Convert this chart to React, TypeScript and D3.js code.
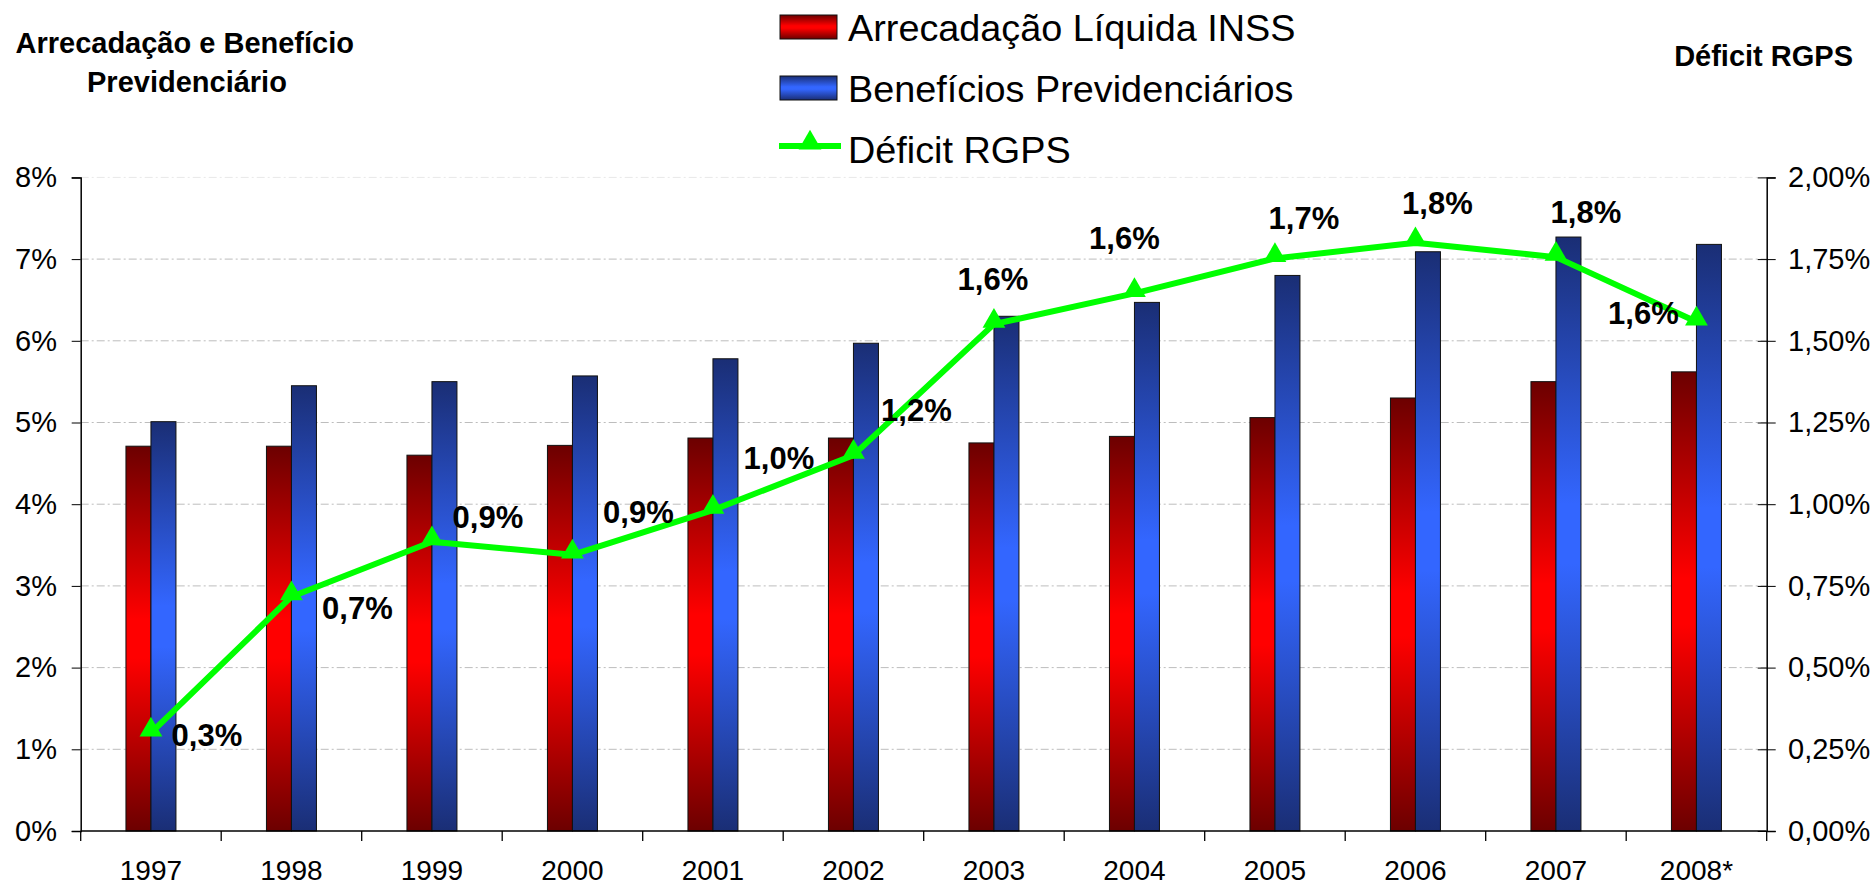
import React, { useEffect, useRef } from 'react';
import * as d3 from 'd3';

// valores (% do PIB)
const years = ['1997', '1998', '1999', '2000', '2001', '2002', '2003', '2004', '2005', '2006', '2007', '2008*'];
const arrecadacao = [4.71, 4.71, 4.6, 4.72, 4.81, 4.81, 4.75, 4.83, 5.06, 5.3, 5.5, 5.62];
const beneficios = [5.01, 5.45, 5.5, 5.57, 5.78, 5.97, 6.3, 6.47, 6.8, 7.09, 7.27, 7.18];
const deficit = [0.3, 0.717, 0.885, 0.845, 0.982, 1.15, 1.551, 1.645, 1.752, 1.8, 1.756, 1.558];
const deficitLabels = ['0,3%', '0,7%', '0,9%', '0,9%', '1,0%', '1,2%', '1,6%', '1,6%', '1,7%', '1,8%', '1,8%', '1,6%'];
const leftTicks = [0, 1, 2, 3, 4, 5, 6, 7, 8];
const rightTicks = [0, 0.25, 0.5, 0.75, 1, 1.25, 1.5, 1.75, 2];
const legendItems = ['Arrecadação Líquida INSS', 'Benefícios Previdenciários', 'Déficit RGPS'];

// onde cada rótulo fica em relação ao marcador
const labelOffsets = [
  [56, 2], [66, 11], [56, -25], [66, -43], [66, -52], [63, -45],
  [-1, -45], [-10, -56], [29, -41], [22, -40], [30, -45], [-53, -9],
];

const FONT = 'Liberation Sans, Arial, Helvetica, sans-serif';

const App = () => {
  const svgRef = useRef(null);

  useEffect(() => {
    const width = 1874;
    const height = 886;
    const left = 80.7;
    const right = 1766.7;
    const top = 177.4;
    const bottom = 831;

    const svg = d3.select(svgRef.current);
    svg.selectAll('*').remove();
    svg.attr('width', width).attr('height', height);

    const defs = svg.append('defs');
    const grad = (id, dark, bright) => {
      const g = defs.append('linearGradient').attr('id', id)
        .attr('x1', 0).attr('y1', 0).attr('x2', 0).attr('y2', 1);
      [[0, dark], [0.45, bright], [0.55, bright], [1, dark]].forEach(([o, c]) => {
        g.append('stop').attr('offset', o).attr('stop-color', c);
      });
    };
    grad('gRed', '#6c0000', '#ff0000');
    grad('gBlue', '#1a2e75', '#3366ff');

    const x = d3.scaleBand().domain(years).range([left, right]);
    const y = d3.scaleLinear().domain([0, 8]).range([bottom, top]);
    const yR = d3.scaleLinear().domain([0, 2]).range([bottom, top]);
    const barW = 25;

    // grade
    svg.append('g')
      .selectAll('line')
      .data(leftTicks.filter(d => d > 0))
      .join('line')
      .attr('x1', left).attr('x2', right)
      .attr('y1', d => y(d)).attr('y2', d => y(d))
      .attr('stroke', d => (d === 8 ? '#e8e8e8' : '#bdbdbd'))
      .attr('stroke-width', 1)
      .attr('stroke-dasharray', '8,3,2,3');

    // barras
    const bars = svg.append('g');
    bars.selectAll('rect.red')
      .data(arrecadacao)
      .join('rect')
      .attr('class', 'red')
      .attr('x', (d, i) => x(years[i]) + x.bandwidth() / 2 - barW)
      .attr('y', d => y(d))
      .attr('width', barW)
      .attr('height', d => bottom - y(d))
      .attr('fill', 'url(#gRed)')
      .attr('stroke', '#111')
      .attr('stroke-width', 1);
    bars.selectAll('rect.blue')
      .data(beneficios)
      .join('rect')
      .attr('class', 'blue')
      .attr('x', (d, i) => x(years[i]) + x.bandwidth() / 2)
      .attr('y', d => y(d))
      .attr('width', barW)
      .attr('height', d => bottom - y(d))
      .attr('fill', 'url(#gBlue)')
      .attr('stroke', '#111')
      .attr('stroke-width', 1);

    // eixo esquerdo
    const axL = svg.append('g')
      .attr('transform', `translate(${left},0)`)
      .call(d3.axisLeft(y).tickValues(leftTicks).tickFormat(d => `${d}%`).tickSize(9).tickPadding(14.7));
    axL.select('.domain').attr('stroke', '#000').attr('stroke-width', 1.5);
    axL.selectAll('text').attr('font-family', FONT).attr('font-size', 29).attr('fill', '#000');

    // eixo direito
    const axR = svg.append('g')
      .attr('transform', `translate(${right},0)`)
      .call(d3.axisRight(yR).tickValues(rightTicks)
        .tickFormat(d => `${d.toFixed(2).replace('.', ',')}%`).tickSize(9).tickPadding(12.3));
    axR.select('.domain').attr('stroke', '#000').attr('stroke-width', 1.5);
    axR.selectAll('.tick line').attr('x1', -9);
    axR.selectAll('text').attr('font-family', FONT).attr('font-size', 29).attr('fill', '#000');

    // eixo das categorias
    const axB = svg.append('g').attr('transform', `translate(0,${bottom})`);
    axB.append('line').attr('x1', left).attr('x2', right).attr('stroke', '#000').attr('stroke-width', 1.5);
    axB.selectAll('line.tk')
      .data([...years.map(d => x(d)), right])
      .join('line')
      .attr('class', 'tk')
      .attr('x1', d => d).attr('x2', d => d)
      .attr('y1', 0).attr('y2', 10)
      .attr('stroke', '#000').attr('stroke-width', 1.3);
    axB.selectAll('text')
      .data(years)
      .join('text')
      .attr('x', d => x(d) + x.bandwidth() / 2)
      .attr('y', 49)
      .attr('text-anchor', 'middle')
      .attr('font-family', FONT)
      .attr('font-size', 28)
      .text(d => d);

    // linha do déficit
    const cx = i => x(years[i]) + x.bandwidth() / 2;
    const line = d3.line().x((d, i) => cx(i)).y(d => yR(d));
    svg.append('path')
      .datum(deficit)
      .attr('d', line)
      .attr('fill', 'none')
      .attr('stroke', '#00ff00')
      .attr('stroke-width', 6)
      .attr('stroke-linejoin', 'round');

    const tri = d3.symbol().type(d3.symbolTriangle).size(225);
    svg.append('g')
      .selectAll('path')
      .data(deficit)
      .join('path')
      .attr('d', tri)
      .attr('transform', (d, i) => `translate(${cx(i)},${yR(d) - 3})`)
      .attr('fill', '#00ff00');

    svg.append('g')
      .selectAll('text')
      .data(deficit)
      .join('text')
      .attr('x', (d, i) => cx(i) + labelOffsets[i][0])
      .attr('y', (d, i) => yR(d) + labelOffsets[i][1])
      .attr('dy', '0.36em')
      .attr('text-anchor', 'middle')
      .attr('font-family', FONT)
      .attr('font-weight', 'bold')
      .attr('font-size', 31)
      .text((d, i) => deficitLabels[i]);

    // títulos dos eixos
    const titles = svg.append('g')
      .attr('font-family', FONT)
      .attr('font-weight', 'bold')
      .attr('font-size', 29);
    titles.append('text').attr('x', 15.5).attr('y', 53).text('Arrecadação e Benefício');
    titles.append('text').attr('x', 87).attr('y', 92).text('Previdenciário');
    titles.append('text').attr('x', 1853).attr('y', 66).attr('text-anchor', 'end').text('Déficit RGPS');

    // legenda
    const rowY = [27, 88, 149];
    const lg = svg.append('g');
    lg.append('rect').attr('x', 780).attr('y', rowY[0] - 12).attr('width', 57).attr('height', 24)
      .attr('fill', 'url(#gRed)').attr('stroke', '#111');
    lg.append('rect').attr('x', 780).attr('y', rowY[1] - 12).attr('width', 57).attr('height', 24)
      .attr('fill', 'url(#gBlue)').attr('stroke', '#111');
    lg.append('line').attr('x1', 779).attr('x2', 841).attr('y1', rowY[2] - 3).attr('y2', rowY[2] - 3)
      .attr('stroke', '#00ff00').attr('stroke-width', 6);
    lg.append('path').attr('d', tri).attr('transform', `translate(810,${rowY[2] - 6})`).attr('fill', '#00ff00');
    lg.selectAll('text')
      .data(legendItems)
      .join('text')
      .attr('x', 848)
      .attr('y', (d, i) => rowY[i] + 13.8)
      .attr('font-family', FONT)
      .attr('font-size', 37.8)
      .text(d => d);
  }, []);

  return (
    <div style={{ position: 'absolute', left: 0, top: 0, background: '#fff' }}>
      <svg ref={svgRef} style={{ display: 'block' }}></svg>
    </div>
  );
};

export default App;
